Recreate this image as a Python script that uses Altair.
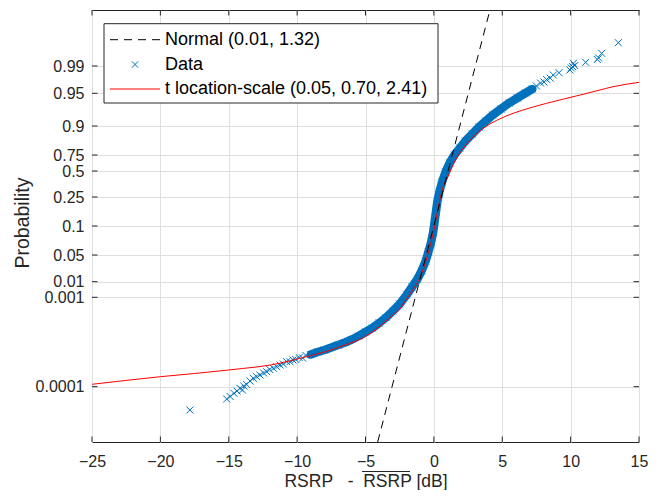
import altair as alt
import pandas as pd

# ---------------- data ----------------
# x axis: RSRP - mean(RSRP) in dB
x_ticks = [-25, -20, -15, -10, -5, 0, 5, 10, 15]
x_domain = [-25, 15]

# vertical axis is probability paper; positions are in plot units (0 = bottom, 432 = top)
z_domain = [0, 432]
prob_tick_pos = [55.3, 144.7, 160.3, 187, 216, 245, 271, 287, 316, 348.7, 376]
prob_tick_labels = ["0.0001", "0.001", "0.01", "0.05", "0.1", "0.25", "0.5",
                    "0.75", "0.9", "0.95", "0.99"]

# sparse lower tail of the data
low_x = [-17.84, -15.15, -14.9, -14.62, -14.4, -14.18, -14.0, -13.9, -13.69, -13.45,
         -13.2, -12.96, -12.72, -12.45, -12.23, -12.0, -11.74, -11.5, -11.25, -11.01,
         -10.77, -10.52, -10.3, -10.1, -9.85, -9.6, -9.35]
low_z = [32, 43, 45.5, 48.7, 51, 53.7, 52, 56, 57.5, 61,
         63.7, 65.3, 67, 69, 70.3, 72.5, 73.7, 75.3, 77, 78,
         80.3, 80.3, 82, 82.5, 84.5, 84, 86.5]

# dense central band of the data
band_x = [-9.0, -8.5, -8.0, -7.5, -7.0, -6.5, -6.0, -5.5, -5.0, -4.5,
          -4.0, -3.5, -3.0, -2.5, -2.0, -1.6, -1.2, -0.9, -0.6, -0.4, -0.2, -0.05,
          0.05, 0.15, 0.25, 0.4, 0.6, 0.85, 1.15, 1.5, 1.9, 2.3, 2.8, 3.3, 3.8, 4.3,
          4.9, 5.5, 6.1, 6.7, 7.2]
band_z = [87.5, 90, 92, 94.5, 97, 99.5, 102.5, 106, 110, 114,
          119, 124.5, 131, 138, 147, 155, 163, 171, 181, 190, 200, 210,
          220, 230, 240, 250, 260, 270, 279, 287, 294, 301, 308, 315, 321, 327,
          333, 339, 344, 349, 353]

# sparse upper tail of the data
high_x = [7.5, 7.8, 8.05, 8.25, 8.5, 8.73, 9.15, 9.95, 10.05, 10.15, 10.2, 10.3,
          11.1, 11.95, 12.05, 12.27, 13.49]
high_z = [356, 359, 360, 362.5, 364, 367, 369.3, 372, 374, 375.3, 378.7, 376.5,
          379.7, 382.5, 384, 388.7, 399.3]

# fitted normal (straight line on this paper)
normal_x = [-4.11, 4.10]
normal_z = [0, 432]

# fitted t location-scale curve
t_x = [-25, -20, -15, -11, -10, -8, -6.5, -5.2, -4, -3, -2.5, -2, -1.5, -1, -0.5, 0,
       0.4, 0.7, 1.05, 1.5, 1.9, 2.4, 2.9, 3.86, 4.8, 5.8, 7, 8.25, 9.5, 10.7, 12,
       13.1, 15]
t_z = [57.7, 65.3, 72, 79.5, 83, 90, 97, 104, 115, 127, 133, 143, 153, 165, 185, 212,
       240, 256, 266, 280, 289, 298, 305.3, 316, 323, 328.7, 334, 338.7, 343, 347, 351.5,
       355.3, 359.7]

legend_labels = ["Normal (0.01, 1.32)", "Data", "t location-scale (0.05, 0.70, 2.41)"]

# ---------------- chart ----------------
W, H = 547, 432
BLUE = "#0072BD"
AX = "#262626"
FONT = "Liberation Sans"
XSHAPE = "M-1,-1L1,1M-1,1L1,-1"

xscale = alt.Scale(domain=x_domain, nice=False, zero=False)
zscale = alt.Scale(domain=z_domain, nice=False, zero=False)

label_expr = " : ".join(
    f"datum.value == {p} ? '{l}'" for p, l in zip(prob_tick_pos, prob_tick_labels)
) + " : ''"

NB = "\u00a0"
x_title = f"RSRP{NB*3}-{NB*2}RSRP [dB]"

pts = pd.DataFrame({"x": low_x + band_x + high_x, "z": low_z + band_z + high_z})
band = pd.DataFrame({"x": band_x, "z": band_z})
normal = pd.DataFrame({"x": normal_x, "z": normal_z})
tfit = pd.DataFrame({"x": t_x, "z": t_z})

x_axis = alt.Axis(values=x_ticks, title=x_title, grid=True, ticks=False, tickSize=0,
                  domain=False, labelPadding=11, labelFlush=False, titleY=44,
                  titleBaseline="alphabetic", titleFontSize=17.5)
z_axis = alt.Axis(values=prob_tick_pos, labelExpr=label_expr, title="Probability",
                  grid=True, ticks=False, tickSize=0, domain=False, labelPadding=8,
                  labelOverlap=False, labelFlush=False, titleX=-69.5, titleY=212.5,
                  titleBaseline="middle", titleAlign="center", titleFontSize=19.5)


def X():
    return alt.X("x:Q", scale=xscale, axis=x_axis)


def Z():
    return alt.Y("z:Q", scale=zscale, axis=z_axis)


band_layer = alt.Chart(band).mark_line(
    color=BLUE, strokeWidth=8.5, strokeCap="round", strokeJoin="round"
).encode(x=X(), y=Z(), order="z:Q")

pts_layer = alt.Chart(pts).mark_point(
    shape=XSHAPE, filled=False, size=49, strokeWidth=1, color=BLUE, opacity=1
).encode(x=X(), y=Z())

t_layer = alt.Chart(tfit).mark_line(color="#FF0000", strokeWidth=1,
                                    interpolate="monotone").encode(
    x=X(), y=Z(), order="x:Q")

normal_layer = alt.Chart(normal).mark_line(
    color="#000000", strokeWidth=1, strokeDash=[8, 6]
).encode(x=X(), y=Z())

# inward ticks on all four sides
xt = pd.DataFrame({"x": x_ticks})
zt = pd.DataFrame({"z": prob_tick_pos})
TL = 5.5
tick_b = alt.Chart(xt).mark_rule(color=AX, strokeWidth=1).encode(
    x=X(), y=alt.value(H), y2=alt.value(H - TL))
tick_t = alt.Chart(xt).mark_rule(color=AX, strokeWidth=1).encode(
    x=X(), y=alt.value(0), y2=alt.value(TL))
tick_l = alt.Chart(zt).mark_rule(color=AX, strokeWidth=1).encode(
    y=Z(), x=alt.value(0), x2=alt.value(TL))
tick_r = alt.Chart(zt).mark_rule(color=AX, strokeWidth=1).encode(
    y=Z(), x=alt.value(W), x2=alt.value(W - TL))

# overline on the second RSRP of the x title
one = pd.DataFrame({"o": [1]})
overline = alt.Chart(one).mark_rule(color=AX, strokeWidth=1).encode(
    x=alt.value(270), x2=alt.value(318), y=alt.value(461.5))

# legend (manual, MATLAB style)
leg_box = alt.Chart(one).mark_rect(fill="white", stroke=AX, strokeWidth=1).encode(
    x=alt.value(12), x2=alt.value(346), y=alt.value(13.7), y2=alt.value(93))
rows_y = [29.7, 54.5, 79]
leg_norm = alt.Chart(one).mark_rule(color="#000000", strokeWidth=1, strokeDash=[8, 6]).encode(
    x=alt.value(18), x2=alt.value(68), y=alt.value(rows_y[0]))
leg_data = alt.Chart(one).mark_point(shape=XSHAPE, filled=False, size=42, strokeWidth=1,
                                     color=BLUE, opacity=1).encode(
    x=alt.value(43), y=alt.value(rows_y[1]))
leg_t = alt.Chart(one).mark_rule(color="#FF0000", strokeWidth=1).encode(
    x=alt.value(18), x2=alt.value(68), y=alt.value(rows_y[2]))
leg_texts = [
    alt.Chart(pd.DataFrame({"label": [lab]})).mark_text(
        align="left", baseline="middle", font=FONT, fontSize=18, color="#000000"
    ).encode(x=alt.value(73), y=alt.value(ry), text="label:N")
    for lab, ry in zip(legend_labels, rows_y)
]

chart = alt.layer(
    band_layer, pts_layer, t_layer, normal_layer,
    tick_b, tick_t, tick_l, tick_r, overline,
    leg_box, leg_norm, leg_data, leg_t, *leg_texts
).properties(
    width=W, height=H,
    autosize=alt.AutoSizeParams(type="none"),
    padding={"left": 84, "top": 2, "right": 14, "bottom": 48},
    background="white",
).configure_view(
    stroke=AX, strokeWidth=1
).configure_axis(
    labelFont=FONT, labelFontSize=16, labelColor=AX,
    titleFont=FONT, titleColor=AX, titleFontWeight="normal",
    gridColor="#dfdfdf", gridWidth=1,
)

chart.save("out.html", embed_options={"renderer": "svg", "actions": False})
